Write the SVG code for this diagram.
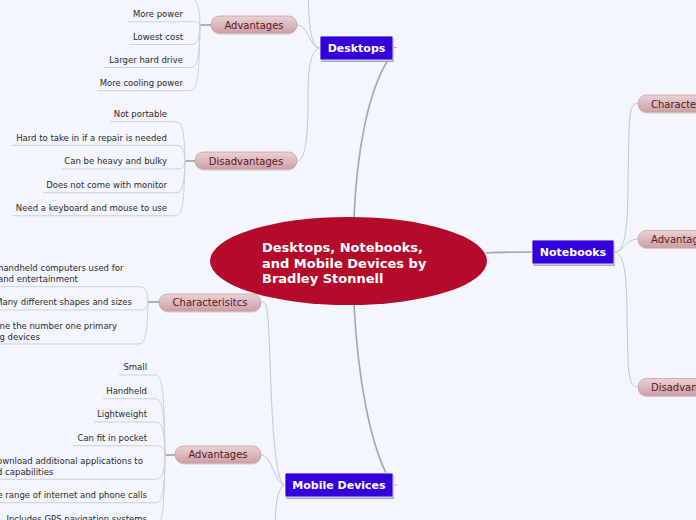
<svg xmlns="http://www.w3.org/2000/svg" width="696" height="520" viewBox="0 0 696 520">
<defs>
<linearGradient id="pill" x1="0" y1="0" x2="0" y2="1">
<stop offset="0" stop-color="#ead3d5"/>
<stop offset="1" stop-color="#cda0a5"/>
</linearGradient>
<style>
.leaf{font-family:"DejaVu Sans",Verdana,sans-serif;font-size:8.5px;fill:#2b2b2b}
.pt{font-family:"DejaVu Sans",Verdana,sans-serif;font-size:10px;fill:#5a1422}
.mt{font-family:"DejaVu Sans",Verdana,sans-serif;font-size:11px;font-weight:bold;fill:#ffffff}
.ct{font-family:"DejaVu Sans",Verdana,sans-serif;font-size:13px;font-weight:bold;fill:#ffffff}
.pill{fill:url(#pill);stroke:#c99da2;stroke-width:0.8}
.pshadow{fill:#d8c8cc}
.box{fill:#3300dd;stroke:#ffffff;stroke-width:0.8}
.bshadow{fill:#a9a9bb}
.lc{fill:none;stroke:#cfd0d8;stroke-width:1}
.sc{fill:none;stroke:#c6c6ce;stroke-width:1}
.stub{fill:none;stroke:#aeaeb4;stroke-width:2}
.mc{fill:none;stroke:#a6a6ac;stroke-width:1.6}
</style>
</defs>
<rect x="0" y="0" width="696" height="520" fill="#f3f6fd"/>

<g id="connectors">
<path class="mc" d="M354,217 C357,150 368,92 388,60"/>
<path class="mc" d="M486,253 C500,252 515,252 532,252"/>
<path class="mc" d="M354,305 C358,380 370,440 386,473"/>
<path class="stub" d="M393,47.5 H397 M393,485 H397" style="stroke-width:1"/>
<!-- desktops children -->
<path class="sc" d="M320,48 C311,46 309,30 308,-10"/>
<path class="sc" d="M320,48 C309,48 309,25 297,25"/>
<path class="sc" d="M320,48 C309,50 308,75 308,100 S307,161 297,161"/>
<!-- notebooks children -->
<path class="sc" d="M615,252 C625,250 628,230 628,180 L629,130 C630,108 632,103.5 638,103.5"/>
<path class="sc" d="M615,252 C623,252 626,239 638,239"/>
<path class="sc" d="M615,252 C625,254 627,280 627,320 L628,360 C629,382 632,387 638,387"/>
<!-- mobile children -->
<path class="sc" d="M285,485 C275,484 272,420 270,360 S266,302 261,302"/>
<path class="sc" d="M285,485 C275,485 272,455 261,455"/>
<path class="sc" d="M285,485 C278,487 276,500 275,525"/>
<!-- desktop advantages leaves -->
<path class="stub" d="M211,25 H200"/>
<path class="lc" d="M200,25 C199,-1 196,-1 188,-1 H120"/>
<path class="lc" d="M200,25 C199,21.7 196,21.7 188,21.7 H128"/>
<path class="lc" d="M200,25 C199,44.5 196,44.5 188,44.5 H129"/>
<path class="lc" d="M200,25 C199,67.5 196,67.5 188,67.5 H104"/>
<path class="lc" d="M200,25 C199,90.7 196,90.7 188,90.7 H97"/>
<!-- desktop disadvantages leaves -->
<path class="stub" d="M195,161 H185"/>
<path class="lc" d="M185,161 C184,121.7 181,121.7 173,121.7 H110"/>
<path class="lc" d="M185,161 C184,145.3 181,145.3 173,145.3 H12"/>
<path class="lc" d="M185,161 C184,169 181,169 173,169 H62"/>
<path class="lc" d="M185,161 C184,192.7 181,192.7 173,192.7 H43"/>
<path class="lc" d="M185,161 C184,215.7 181,215.7 173,215.7 H12"/>
<!-- mobile characteristics leaves -->
<path class="stub" d="M159,302 H148"/>
<path class="lc" d="M148,302 C147,286.7 144,286.7 136,286.7 H-5"/>
<path class="lc" d="M148,302 C147,310 144,310 136,310 H-5"/>
<path class="lc" d="M148,302 C147,344 144,344 136,344 H-5"/>
<!-- mobile advantages leaves -->
<path class="stub" d="M175,455 H165"/>
<path class="lc" d="M165,455 C164,375 161,375 153,375 H119"/>
<path class="lc" d="M165,455 C164,398.7 161,398.7 153,398.7 H103"/>
<path class="lc" d="M165,455 C164,422 161,422 153,422 H94"/>
<path class="lc" d="M165,455 C164,445.7 161,445.7 153,445.7 H73"/>
<path class="lc" d="M165,455 C164,479.3 161,479.3 153,479.3 H-5"/>
<path class="lc" d="M165,455 C164,502.7 161,502.7 153,502.7 H-5"/>
<path class="lc" d="M165,455 C164,526 161,526 153,526 H0"/>
</g>

<g id="center">
<ellipse cx="348.5" cy="261" rx="138.5" ry="44" fill="#b40b2b"/>
<text class="ct" x="262" y="252">Desktops, Notebooks,</text>
<text class="ct" x="262" y="267.5">and Mobile Devices by</text>
<text class="ct" x="262" y="283">Bradley Stonnell</text>
</g>

<g id="desktops">
<rect class="bshadow" x="321" y="38" width="73" height="24" rx="1"/>
<rect class="box" x="320" y="36" width="73" height="24" rx="1"/>
<text class="mt" x="356.5" y="52" text-anchor="middle">Desktops</text>
</g>
<g id="notebooks">
<rect class="bshadow" x="533" y="242" width="82" height="24" rx="1"/>
<rect class="box" x="532" y="240" width="82" height="24" rx="1"/>
<text class="mt" x="573" y="256" text-anchor="middle">Notebooks</text>
</g>
<g id="mobile">
<rect class="bshadow" x="286" y="475" width="108" height="24" rx="1"/>
<rect class="box" x="285" y="473" width="108" height="24" rx="1"/>
<text class="mt" x="339" y="489" text-anchor="middle">Mobile Devices</text>
</g>

<g id="desk-adv">
<rect class="pshadow" x="211" y="17.5" width="86" height="17" rx="8.5"/>
<rect class="pill" x="211" y="16" width="86" height="17" rx="8.5"/>
<text class="pt" x="254" y="28.5" text-anchor="middle">Advantages</text>
</g>
<g id="desk-dis">
<rect class="pshadow" x="195" y="153.5" width="102" height="17" rx="8.5"/>
<rect class="pill" x="195" y="152" width="102" height="17" rx="8.5"/>
<text class="pt" x="246" y="164.5" text-anchor="middle">Disadvantages</text>
</g>
<g id="mob-char">
<rect class="pshadow" x="159" y="295.5" width="102" height="17" rx="8.5"/>
<rect class="pill" x="159" y="294" width="102" height="17" rx="8.5"/>
<text class="pt" x="210" y="306" text-anchor="middle">Characterisitcs</text>
</g>
<g id="mob-adv">
<rect class="pshadow" x="175" y="447.5" width="86" height="17" rx="8.5"/>
<rect class="pill" x="175" y="446" width="86" height="17" rx="8.5"/>
<text class="pt" x="218" y="458" text-anchor="middle">Advantages</text>
</g>
<g id="nb-char">
<rect class="pshadow" x="638" y="96.5" width="120" height="17" rx="8.5"/>
<rect class="pill" x="638" y="95" width="120" height="17" rx="8.5"/>
<text class="pt" x="651" y="107.5">Characteristics</text>
</g>
<g id="nb-adv">
<rect class="pshadow" x="638" y="232" width="120" height="17" rx="8.5"/>
<rect class="pill" x="638" y="230.5" width="120" height="17" rx="8.5"/>
<text class="pt" x="651" y="243">Advantages</text>
</g>
<g id="nb-dis">
<rect class="pshadow" x="638" y="380" width="120" height="17" rx="8.5"/>
<rect class="pill" x="638" y="378.5" width="120" height="17" rx="8.5"/>
<text class="pt" x="651" y="391">Disadvantages</text>
</g>

<g id="desk-adv-leaves" class="leaf" text-anchor="end">
<text class="leaf" x="183" y="17">More power</text>
<text class="leaf" x="183" y="40">Lowest cost</text>
<text class="leaf" x="183" y="63">Larger hard drive</text>
<text class="leaf" x="183" y="86">More cooling power</text>
</g>
<g id="desk-dis-leaves" text-anchor="end">
<text class="leaf" x="167" y="117">Not portable</text>
<text class="leaf" x="167" y="140.7">Hard to take in if a repair is needed</text>
<text class="leaf" x="167" y="164.2">Can be heavy and bulky</text>
<text class="leaf" x="167" y="187.8">Does not come with monitor</text>
<text class="leaf" x="167" y="211">Need a keyboard and mouse to use</text>
</g>
<g id="mob-char-leaves">
<text class="leaf" x="-2" y="271">handheld computers used for</text>
<text class="leaf" x="-2" y="282">and entertainment</text>
<text class="leaf" x="132" y="305" text-anchor="end">Many different shapes and sizes</text>
<text class="leaf" x="-0.5" y="329">ne the number one primary</text>
<text class="leaf" x="-0.5" y="339.5">g devices</text>
</g>
<g id="mob-adv-leaves">
<text class="leaf" x="147" y="370" text-anchor="end">Small</text>
<text class="leaf" x="147" y="394" text-anchor="end">Handheld</text>
<text class="leaf" x="147" y="417" text-anchor="end">Lightweight</text>
<text class="leaf" x="147" y="441" text-anchor="end">Can fit in pocket</text>
<text class="leaf" x="-3" y="464">ownload additional applications to</text>
<text class="leaf" x="-3" y="475">d capabilities</text>
<text class="leaf" x="147" y="498" text-anchor="end">e range of internet and phone calls</text>
<text class="leaf" x="147" y="521.5" text-anchor="end">Includes GPS navigation systems</text>
</g>
</svg>
